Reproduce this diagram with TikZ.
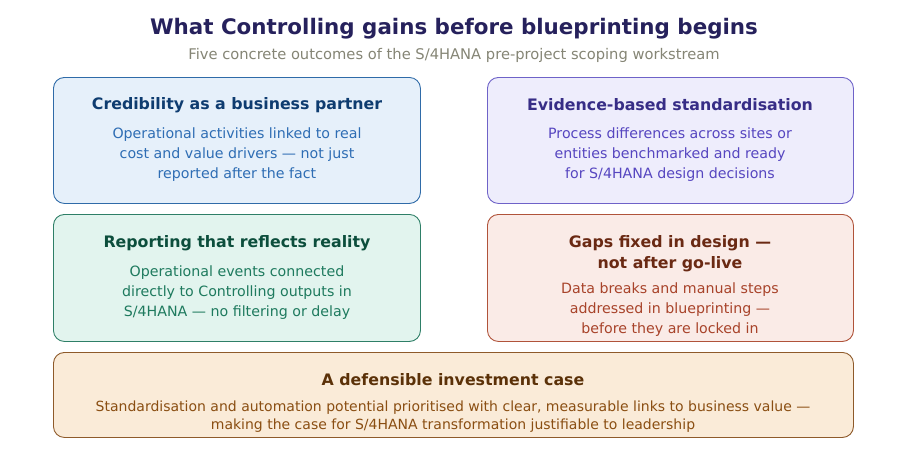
\documentclass[tikz,border=0pt]{standalone}
\usepackage{fontspec}
\setmainfont{DejaVu Sans}
\usepackage{xcolor}
\usetikzlibrary{positioning}

% card palettes
\definecolor{headC}{HTML}{26215C}
\definecolor{subC}{HTML}{858575}
\definecolor{blueF}{HTML}{E6F0FA}\definecolor{blueD}{HTML}{2F6BA8}\definecolor{blueT}{HTML}{0E3C70}\definecolor{blueB}{HTML}{2E6DB4}
\definecolor{violF}{HTML}{EEEDFC}\definecolor{violD}{HTML}{6E62C8}\definecolor{violT}{HTML}{372D86}\definecolor{violB}{HTML}{5646C0}
\definecolor{greenF}{HTML}{E2F4EE}\definecolor{greenD}{HTML}{2E7F67}\definecolor{greenT}{HTML}{0C4E3C}\definecolor{greenB}{HTML}{1E7A5E}
\definecolor{redF}{HTML}{FAEBE7}\definecolor{redD}{HTML}{B0533A}\definecolor{redT}{HTML}{6A2913}\definecolor{redB}{HTML}{A8432A}
\definecolor{sandF}{HTML}{FAEBD8}\definecolor{sandD}{HTML}{8E5A2A}\definecolor{sandT}{HTML}{5B3108}\definecolor{sandB}{HTML}{8A4E12}

\begin{document}
\begin{tikzpicture}[
  x=1pt, y=-1pt,
  card/.style={rectangle, rounded corners=11pt, draw=#1D, fill=#1F, line width=0.9pt,
               anchor=north west, inner sep=0pt},
  cardtitle/.style={font=\fontsize{15.8}{21}\selectfont\bfseries, text=#1T, align=center},
  cardbody/.style={font=\fontsize{14.2}{20}\selectfont, text=#1B, align=center},
]
\useasboundingbox (0,0) rectangle (908,456);

% Heading
\node[font=\fontsize{21.4}{25}\selectfont\bfseries, text=headC] (head) at (454,29)
  {What Controlling gains before blueprinting begins};
\node[font=\fontsize{14.7}{18}\selectfont, text=subC] (sub) at (454,55)
  {Five concrete outcomes of the S/4HANA pre-project scoping workstream};

% Top left card
\node[card=blue, minimum width=367pt, minimum height=126pt] (cred) at (53,77) {};
\node[cardtitle=blue] (credT) at (237,105) {Credibility as a business partner};
\node[cardbody=blue] (credB) at (237,155)
  {Operational activities linked to real\\cost and value drivers --- not just\\reported after the fact};

% Top right card
\node[card=viol, minimum width=366pt, minimum height=126pt] (std) at (487,77) {};
\node[cardtitle=viol] (stdT) at (670,105) {Evidence-based standardisation};
\node[cardbody=viol] (stdB) at (670,155)
  {Process differences across sites or\\entities benchmarked and ready\\for S/4HANA design decisions};

% Middle left card
\node[card=green, minimum width=367pt, minimum height=127pt] (rep) at (53,214) {};
\node[cardtitle=green] (repT) at (237,243) {Reporting that reflects reality};
\node[cardbody=green] (repB) at (237,293)
  {Operational events connected\\directly to Controlling outputs in\\S/4HANA --- no filtering or delay};

% Middle right card
\node[card=red, minimum width=366pt, minimum height=127pt] (gap) at (487,214) {};
\node[cardtitle=red] (gapT) at (670,253.5) {Gaps fixed in design ---\\not after go-live};
\node[cardbody=red] (gapB) at (670,310)
  {Data breaks and manual steps\\addressed in blueprinting ---\\before they are locked in};

% Bottom card
\node[card=sand, minimum width=800pt, minimum height=85pt] (inv) at (53,352) {};
\node[cardtitle=sand] (invT) at (453,380) {A defensible investment case};
\node[cardbody=sand, font=\fontsize{14}{18}\selectfont] (invB) at (453,417)
  {Standardisation and automation potential prioritised with clear, measurable links to business value ---\\making the case for S/4HANA transformation justifiable to leadership};

\end{tikzpicture}
\end{document}
